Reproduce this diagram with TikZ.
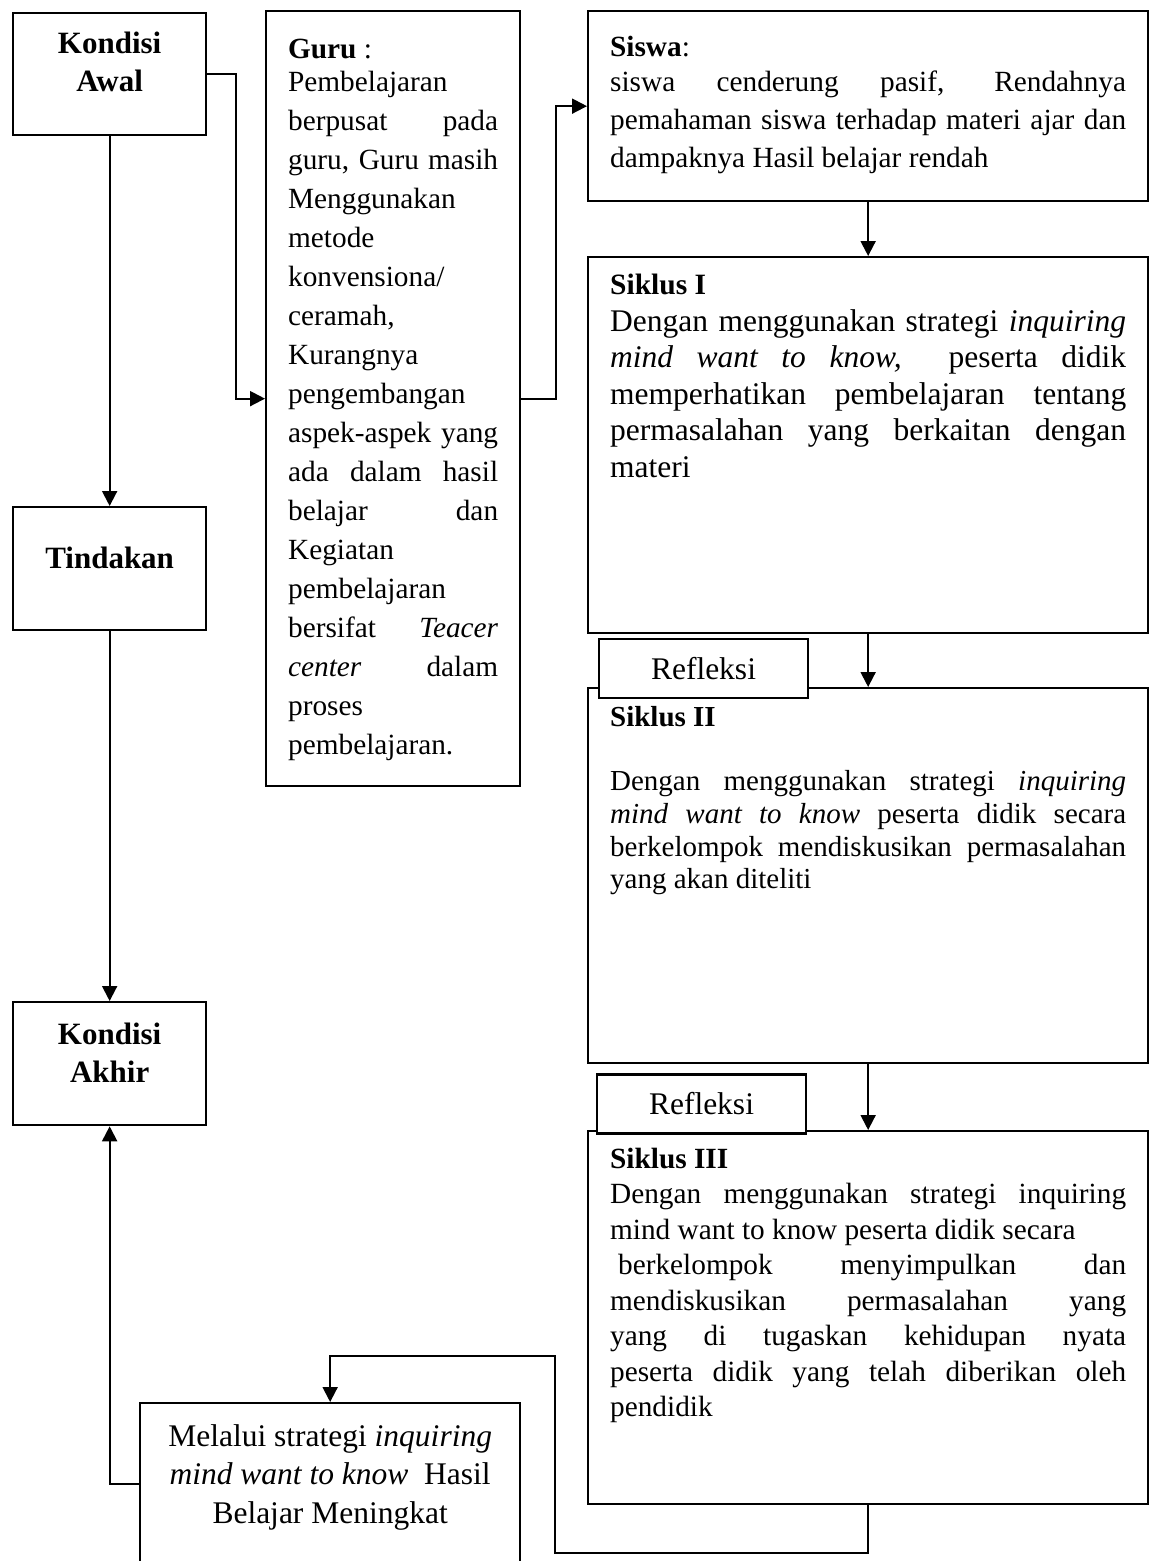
\documentclass[tikz,border=0pt]{standalone}
\usepackage{fontspec}
\setmainfont{Liberation Serif}
\usepackage{tikz}
\usetikzlibrary{arrows.meta, positioning}
\tikzset{>={Triangle[length=15pt,width=15pt]}}
\tikzset{edge/.style = {->, line width=2pt}}
\tikzset{box/.style = {draw, line width=2.3pt, inner xsep=22pt, inner ysep=0pt, anchor=north west}}
\tikzset{tag/.style = {draw, fill=white, line width=2.3pt, minimum width=209pt, minimum height=59pt, inner sep=0pt, font=\fontsize{31.5}{38}\selectfont}}

% width, height, space above the first line, text
\newcommand{\boxbody}[4]{\parbox[t][#2pt][t]{#1pt}{\tolerance=10000 \emergencystretch=300pt
  \hyphenpenalty=10000 \exhyphenpenalty=10000 \hbadness=10000 \vspace*{#3pt}#4}}

\begin{document}
\begin{tikzpicture}[x=1pt, y=-1pt]
    \useasboundingbox (0,0) rectangle (1149,1561);
    \clip (0,0) rectangle (1149,1561);

    % left column
    \node[box] (awal) at (12,12) {\boxbody{149}{122}{13.4}{\centering\fontsize{31}{38}\selectfont\bfseries\strut Kondisi\\Awal}};
    \node[box] (tindakan) at (12,506) {\boxbody{149}{123}{34.4}{\centering\fontsize{31}{38}\selectfont\bfseries\strut Tindakan}};
    \node[box] (akhir) at (12,1001) {\boxbody{149}{123}{15.4}{\centering\fontsize{31}{38}\selectfont\bfseries\strut Kondisi\\Akhir}};

    % teacher
    \node[box] (guru) at (265,10) {\boxbody{210}{775}{19.7}{\fontsize{29.3}{39}\selectfont\strut\textbf{Guru} :\par
        \vspace{-6pt}
        Pembelajaran\linebreak
        berpusat pada\linebreak
        guru, Guru masih\linebreak
        Menggunakan\linebreak
        metode\linebreak
        konvensiona/\linebreak
        ceramah,\linebreak
        Kurangnya\linebreak
        pengembangan\linebreak
        aspek-aspek yang\linebreak
        ada dalam hasil\linebreak
        belajar dan\linebreak
        Kegiatan\linebreak
        pembelajaran\linebreak
        bersifat \textit{Teacer}\linebreak
        \textit{center} dalam\linebreak
        proses\linebreak
        pembelajaran.}};

    % students
    \node[box] (siswa) at (587,10) {\boxbody{516}{190}{18.4}{\fontsize{29.3}{38}\selectfont\strut\textbf{Siswa}:\par
        \vspace{-3pt}
        siswa cenderung pasif, Rendahnya\linebreak
        pemahaman siswa terhadap materi ajar dan\linebreak
        dampaknya Hasil belajar rendah}};

    % cycles
    \node[box] (siklusA) at (587,256) {\boxbody{516}{376}{11.6}{\fontsize{29.5}{37}\selectfont\strut\textbf{Siklus I}\par
        \fontsize{31.5}{36.5}\selectfont
        Dengan menggunakan strategi \textit{inquiring}\linebreak
        \textit{mind want to know,}\ \ peserta didik\linebreak
        memperhatikan pembelajaran tentang\linebreak
        permasalahan yang berkaitan dengan\linebreak
        materi}};
    \node[box] (siklusB) at (587,687) {\boxbody{516}{375}{15.1}{\fontsize{29}{32.7}\selectfont\strut\textbf{Siklus II}\par
        \vspace{32pt}
        Dengan menggunakan strategi \textit{inquiring}\linebreak
        \textit{mind want to know} peserta didik secara\linebreak
        berkelompok mendiskusikan permasalahan\linebreak
        yang akan diteliti}};
    \node[box] (siklusC) at (587,1130) {\boxbody{516}{373}{12.2}{\fontsize{29.3}{35.5}\selectfont\strut\textbf{Siklus III}\par
        Dengan menggunakan strategi inquiring\linebreak
        mind want to know peserta didik secara\newline
        \hspace*{8pt}berkelompok menyimpulkan dan\linebreak
        mendiskusikan permasalahan yang\linebreak
        yang di tugaskan kehidupan nyata\linebreak
        peserta didik yang telah diberikan oleh\linebreak
        pendidik}};

    % result
    \node[box] (hasil) at (139,1402) {\boxbody{336}{162}{16}{\centering\fontsize{31.5}{38.5}\selectfont\strut Melalui strategi \textit{inquiring}\\
        \textit{mind want to know}\ \ Hasil\\
        Belajar Meningkat}};

    % reflection tags
    \node[tag] (refA) at (703.5,668.5) {Refleksi};
    \node[tag] (refB) at (701.5,1104) {Refleksi};

    % Kondisi Awal to Tindakan to Kondisi Akhir
    \draw[edge] (awal.south) -- (tindakan.north);
    \draw[edge] (tindakan.south) -- (akhir.north);

    % Kondisi Awal to Guru to Siswa
    \draw[edge] (awal.east) -- ++(29,0) |- (guru.west);
    \draw[edge] (guru.east) -- ++(35,0) |- (siswa.west);

    % Siswa down through the cycles
    \draw[edge] (siswa.south) -- (siklusA.north);
    \draw[edge] (siklusA.south) -- (siklusB.north);
    \draw[edge] (siklusB.south) -- (siklusC.north);

    % Siklus III round to the result
    \draw[edge] (siklusC.south) -- ++(0,48) -| ++(-313,-197) -| (hasil.north);

    % result up to Kondisi Akhir
    \draw[edge] (hasil.west) -| (akhir.south);
\end{tikzpicture}
\end{document}
